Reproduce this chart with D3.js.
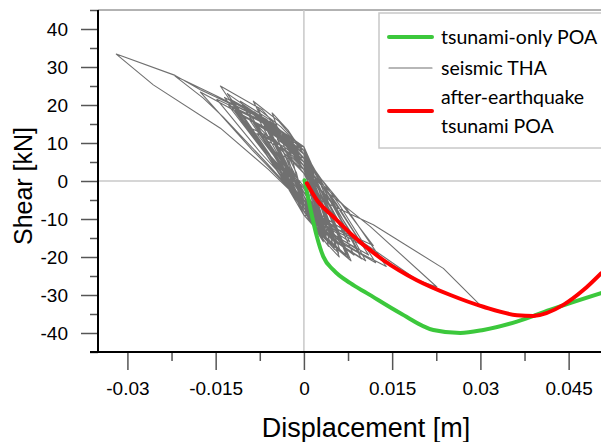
<!DOCTYPE html>
<html>
<head>
<meta charset="utf-8">
<script src="https://cdn.jsdelivr.net/npm/d3@7"></script>
<style>
  body { margin: 0; background: #fff; }
  svg { display: block; }
</style>
</head>
<body>
<svg></svg>
<script>
// displacement [m] / shear [kN]

const yTicks = [-40, -30, -20, -10, 0, 10, 20, 30, 40];
const yMinor = [-45, -35, -25, -15, -5, 5, 15, 25, 35, 45];
const xTicks = [-0.03, -0.015, 0, 0.015, 0.03, 0.045];
const xTickLabels = ['-0.03', '-0.015', '0', '0.015', '0.03', '0.045'];
const xMinor = [-0.0225, -0.0075, 0.0075, 0.0225, 0.0375];

const legendLabels = ['tsunami-only POA', 'seismic THA', 'after-earthquake', 'tsunami POA'];

// tsunami-only pushover
const poaDisp = [0.0001, 0.0008, 0.0014, 0.0022, 0.0033, 0.005, 0.0079, 0.0107, 0.0164, 0.022, 0.0266, 0.0305, 0.0362, 0.0418, 0.0505];
const poaShear = [0.2, -5, -9.4, -14.6, -19.9, -23.4, -26.9, -29.5, -34.8, -39.2, -40, -39.2, -37, -33.9, -29.5];

// after-earthquake tsunami pushover
const aePoaDisp = [0.0005, 0.0022, 0.005, 0.0079, 0.0135, 0.0192, 0.0249, 0.0305, 0.0362, 0.039, 0.0441, 0.0475, 0.0505];
const aePoaShear = [-0.6, -5, -9.4, -13.8, -20.8, -26.1, -30, -33.1, -35.3, -35.5, -32.6, -28.7, -24.3];

// seismic time history, [displacement, shear] in time order
const thaPath = [
  [0, 0], [0.001, -6.8], [0.002, -9],
  [0.001, -2.7], [0, 4], [-0.0015, 6], [-0.003, 8],
  [-0.0015, 2.8], [0, -4], [0.0015, -9], [0.003, -12],
  [0.0015, -3.6], [0, 5], [-0.00225, 8.25], [-0.0045, 11],
  [-0.00225, 3.85], [0, -5], [0.00175, -10.5], [0.0035, -14],
  [0.00175, -4.2], [0, 6], [-0.003, 10.5], [-0.006, 14],
  [-0.003, 4.9], [0, -6], [0.00165, -12], [0.0033, -16],
  [0.00165, -4.8], [0, 7], [-0.00375, 12.75], [-0.0075, 17],
  [-0.00375, 5.95], [0, -5], [0.00225, -12.4], [0.0045, -16.5],
  [0.00225, -5], [0, 8], [-0.0043, 15.75], [-0.0086, 21],
  [-0.0043, 7.35], [0, -7], [0.00295, -14.25], [0.0059, -19],
  [0.00295, -5.7], [0, 6], [-0.0071, 18.75], [-0.0142, 25],
  [-0.0071, 8.75], [0, -8], [0.0038, -15.2], [0.0076, -20.3],
  [0.0038, -6.1], [0, 5], [-0.006, 14.6], [-0.012, 19.5],
  [-0.006, 6.8], [0, -6], [0.00475, -14.25], [0.0095, -19],
  [0.00475, -5.7], [0, 7], [-0.008, 17], [-0.015, 22.5], [-0.0219, 27.6],
  [-0.0171, 21.8], [-0.0137, 16.8], [-0.0065, 5], [0, -6], [0.0059, -12.8], [0.0118, -17],
  [0.0059, -5], [0, 6], [-0.0086, 17.5], [-0.0176, 24], [-0.0219, 27.8], [-0.0319, 33.4],
  [-0.0256, 25.3], [-0.0142, 13.9], [-0.006, 3], [0, -6], [0.0113, -17.5], [0.0192, -26], [0.0226, -27.9],
  [0.0113, -12], [0.004, -3], [0, 4], [-0.0065, 16], [-0.013, 23],
  [-0.0065, 8], [0, -3], [0.0118, -11.5], [0.0237, -23], [0.0303, -33.2],
  [0.0249, -30.2], [0.0192, -26.3], [0.0135, -21], [0.006, -11], [0, 2], [-0.0088, 16], [-0.0176, 23.4],
  [-0.0088, 8.2], [0, -6], [0.007, -16.9], [0.014, -22.5],
  [0.007, -6.75], [0, 4], [-0.005, 14.25], [-0.01, 19],
  [-0.005, 6.65], [0, -8], [0.00525, -15.75], [0.0105, -21],
  [0.00525, -6.3], [0, 8], [-0.0055, 13.1], [-0.011, 17.5],
  [-0.0055, 6.1], [0, -4], [0.0034, -13.1], [0.0068, -17.5],
  [0.0034, -5.25], [0, 6], [-0.0046, 12], [-0.0092, 16],
  [-0.0046, 5.6], [0, -7], [0.00425, -14.6], [0.0085, -19.5],
  [0.00425, -5.85], [0, 9], [-0.00325, 11.25], [-0.0065, 15],
  [-0.00325, 5.25], [0, -5], [0.0025, -11.25], [0.005, -15],
  [0.0025, -4.5], [0, 3], [-0.004, 9.4], [-0.008, 12.5],
  [-0.004, 4.4], [0, -3], [0.0035, -10.5], [0.007, -14],
  [0.0035, -4.2], [0, 7], [-0.0027, 13.4], [-0.0054, 17.9],
  [-0.0027, 6.3], [0, -8], [0.002, -8.25], [0.004, -11],
  [0.002, -3.3], [0, 4], [-0.003, 9.75], [-0.006, 13],
  [-0.003, 4.55], [0, -5], [0.005, -12.75], [0.01, -17],
  [0.005, -5.1], [0, 5], [-0.00625, 16.1], [-0.0125, 21.5],
  [-0.00625, 7.5], [0, -9], [0.0031, -13.9], [0.0062, -18.5],
  [0.0031, -5.55], [0, 6], [-0.00475, 13.9], [-0.0095, 18.5],
  [-0.00475, 6.5], [0, -6], [0.004, -15.75], [0.008, -21],
  [0.004, -6.3], [0, 7], [-0.00675, 16.5], [-0.0135, 22],
  [-0.00675, 7.7], [0, -7], [0.00275, -12.4], [0.0055, -16.5],
  [0.00275, -4.95], [0, 5], [-0.0035, 12], [-0.007, 16],
  [-0.0035, 5.6], [0, -4], [0.0045, -13.5], [0.009, -18],
  [0.0045, -5.4], [0, 8], [-0.00525, 15], [-0.0105, 20],
  [-0.00525, 7], [0, -6], [0.0019, -10.9], [0.0038, -14.5],
  [0.0019, -4.35], [0, 4], [-0.0041, 11.25], [-0.0082, 15],
  [-0.0041, 5.25], [0, -5], [0.0036, -14.6], [0.0072, -19.5],
  [0.0036, -5.85], [0, 6], [-0.00575, 13.5], [-0.0115, 18],
  [-0.00575, 6.3], [0, -7], [0.0024, -9.75], [0.0048, -13],
  [0.0024, -3.9], [0, 5], [-0.0034, 9], [-0.0068, 12],
  [-0.0034, 4.2], [0, -4], [0.00125, -7.9], [0.0025, -10.5],
  [0.00125, -3.15], [0, 3], [-0.002, 6.75], [-0.004, 9],
  [-0.002, 3.15], [0, -3], [0.0015, -6.75], [0.003, -9],
  [0.0015, -2.7], [0, 2], [-0.00125, 4.5], [-0.0025, 6],
  [-0.00125, 2.1], [0, -6], [0.00325, -12.75], [0.0065, -17],
  [0.00325, -5.1], [0, 9], [-0.0059, 15.4], [-0.0118, 20.5],
  [-0.0059, 7.2], [0, -8], [0.0049, -15.4], [0.0098, -20.5],
  [0.0049, -6.15], [0, 3], [-0.0045, 12.9], [-0.009, 17.2],
  [-0.0045, 6], [0, -9], [0.0026, -13.5], [0.0052, -18],
  [0.0026, -5.4], [0, 8], [-0.0039, 14.25], [-0.0078, 19],
  [-0.0039, 6.65], [0, -5], [0.0055, -14.6], [0.011, -19.5],
  [0.0055, -5.85], [0, 6], [-0.0054, 15.75], [-0.0108, 21],
  [-0.0054, 7.35], [0, -3], [0.0039, -12], [0.0078, -16],
  [0.0039, -4.8], [0, 4], [-0.0064, 14.85], [-0.0128, 19.8],
  [-0.0064, 6.9], [0, -8], [0.0021, -12.9], [0.0042, -17.2],
  [0.0021, -5.2], [0, 9], [-0.0029, 11.85], [-0.0058, 15.8],
  [-0.0029, 5.5], [0, -6], [0.0044, -11.6], [0.0088, -15.5],
  [0.0044, -4.65], [0, 2], [-0.0049, 10.9], [-0.0098, 14.5],
  [-0.0049, 5.1], [0, -7], [0.003, -15], [0.006, -20],
  [0.003, -6], [0, 5], [-0.0074, 16.1], [-0.0148, 21.5],
  [-0.0074, 7.5], [0, -5], [0.0061, -16.1], [0.0122, -21.5],
  [0.0061, -6.45], [0, 7], [-0.0042, 13.65], [-0.0084, 18.2],
  [-0.0042, 6.4], [0, -9], [0.00175, -9.4], [0.0035, -12.5],
  [0.00175, -3.75], [0, 6], [-0.0031, 7.9], [-0.0062, 10.5],
  [-0.0031, 3.7], [0, -2], [0.0029, -10.1], [0.0058, -13.5],
  [0.0029, -4.05], [0, 9], [-0.00175, 9.4], [-0.0035, 12.5],
  [-0.00175, 4.4], [0, -7], [0.0014, -9.75], [0.0028, -13],
  [0.0014, -3.9], [0, 3], [-0.0023, 5.6], [-0.0046, 7.5],
  [0, -1.5], [0.0005, -2]
];

const width = 601;
const height = 442;
const plotLeft = 98;
const plotTop = 10;
const plotBottom = 352;

const xScale = d3.scaleLinear()
                 .domain([-0.035, 0.0505])
                 .range([plotLeft, width]);

const yScale = d3.scaleLinear()
                 .domain([-45, 45])
                 .range([plotBottom, plotTop]);

const svg = d3.select('svg')
              .attr('width', width)
              .attr('height', height);

const font = '"Liberation Sans", Arial, sans-serif';

// frame and zero lines
svg.append('line')
    .attr('x1', plotLeft).attr('x2', width)
    .attr('y1', plotTop).attr('y2', plotTop)
    .attr('stroke', '#666').attr('stroke-width', 1);

svg.append('line')
    .attr('x1', xScale(0)).attr('x2', xScale(0))
    .attr('y1', plotTop).attr('y2', plotBottom)
    .attr('stroke', '#c8c8c8').attr('stroke-width', 1.5);

svg.append('line')
    .attr('x1', plotLeft).attr('x2', width)
    .attr('y1', yScale(0)).attr('y2', yScale(0))
    .attr('stroke', '#c8c8c8').attr('stroke-width', 1.5);

// curves
const pts = (xs, ys) => xs.map((x, i) => [x, ys[i]]);

const straight = d3.line()
                   .x((d) => xScale(d[0]))
                   .y((d) => yScale(d[1]));

const smooth = d3.line()
                 .x((d) => xScale(d[0]))
                 .y((d) => yScale(d[1]))
                 .curve(d3.curveMonotoneX);

const plot = svg.append('g');

plot.append('path')
    .attr('d', straight(thaPath))
    .attr('fill', 'none')
    .attr('stroke', '#707070')
    .attr('stroke-width', 1.1)
    .attr('stroke-linejoin', 'round');

plot.append('path')
    .attr('d', smooth(pts(poaDisp, poaShear)))
    .attr('fill', 'none')
    .attr('stroke', '#3cc83c')
    .attr('stroke-width', 4)
    .attr('stroke-linecap', 'round');

plot.append('path')
    .attr('d', smooth(pts(aePoaDisp, aePoaShear)))
    .attr('fill', 'none')
    .attr('stroke', '#ff0000')
    .attr('stroke-width', 4)
    .attr('stroke-linecap', 'round');

// axes
const styleAxis = (g) => {
  g.select('.domain').remove();
  g.selectAll('.tick line').attr('stroke', '#555').attr('stroke-width', 1.5);
  g.selectAll('.tick text')
    .style('font-family', font)
    .style('font-size', '19px')
    .attr('fill', '#000');
};

svg.append('g')
    .attr('transform', `translate(${plotLeft}, 0)`)
    .call(d3.axisLeft(yScale).tickValues(yTicks).tickSize(17).tickPadding(13).tickFormat((d) => String(d)))
    .call(styleAxis);

svg.append('g')
    .attr('transform', `translate(${plotLeft}, 0)`)
    .call(d3.axisLeft(yScale).tickValues(yMinor).tickSize(8).tickFormat(''))
    .call(styleAxis);

svg.append('g')
    .attr('transform', `translate(0, ${plotBottom})`)
    .call(d3.axisBottom(xScale).tickValues(xTicks).tickSize(18).tickPadding(12).tickFormat((d, i) => xTickLabels[i]))
    .call(styleAxis);

svg.append('g')
    .attr('transform', `translate(0, ${plotBottom})`)
    .call(d3.axisBottom(xScale).tickValues(xMinor).tickSize(9).tickFormat(''))
    .call(styleAxis);

svg.append('line')
    .attr('x1', plotLeft).attr('x2', plotLeft)
    .attr('y1', plotTop).attr('y2', plotBottom)
    .attr('stroke', '#000').attr('stroke-width', 2);

svg.append('line')
    .attr('x1', plotLeft - 8).attr('x2', width)
    .attr('y1', plotBottom).attr('y2', plotBottom)
    .attr('stroke', '#000').attr('stroke-width', 2);

// axis titles
svg.append('text')
    .text('Displacement [m]')
    .attr('x', 366)
    .attr('y', 437)
    .style('text-anchor', 'middle')
    .style('font-family', font)
    .style('font-size', '27px');

svg.append('text')
    .text('Shear [kN]')
    .attr('x', -186)
    .attr('y', 32)
    .attr('transform', 'rotate(-90)')
    .style('text-anchor', 'middle')
    .style('font-family', font)
    .style('font-size', '25px');

// legend
const legend = svg.append('g');
const legendFont = 'Lato, "Open Sans", sans-serif';

legend.append('rect')
    .attr('x', 379).attr('y', 13)
    .attr('width', 240).attr('height', 135)
    .attr('fill', '#fff')
    .attr('stroke', '#c8c8c8')
    .attr('stroke-width', 1.5);

const legendLines = [
  { y: 37, color: '#3cc83c', w: 4 },
  { y: 68, color: '#707070', w: 1.1 },
  { y: 111, color: '#ff0000', w: 4 }
];

legend.selectAll('line.key')
  .data(legendLines)
  .enter()
  .append('line')
    .attr('x1', 389).attr('x2', 432)
    .attr('y1', (d) => d.y).attr('y2', (d) => d.y)
    .attr('stroke', (d) => d.color)
    .attr('stroke-width', (d) => d.w)
    .attr('stroke-linecap', 'round');

legend.selectAll('text')
  .data(legendLabels)
  .enter()
  .append('text')
    .text((d) => d)
    .attr('x', 441)
    .attr('y', (d, i) => [37, 68, 97, 126][i])
    .attr('dy', '0.35em')
    .style('font-family', legendFont)
    .style('font-size', '19.5px')
    .attr('fill', '#000');
</script>
</body>
</html>
